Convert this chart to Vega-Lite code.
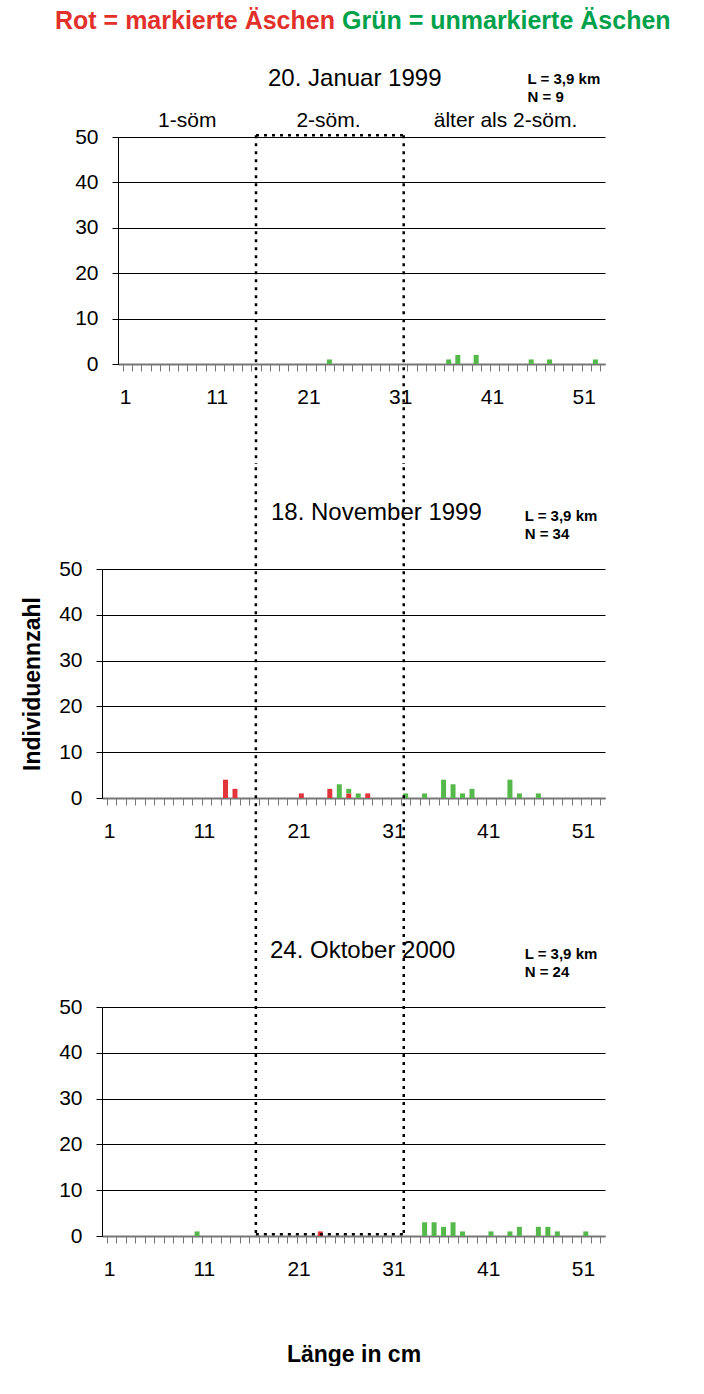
{
  "$schema": "https://vega.github.io/schema/vega-lite/v6.json",
  "padding": {"left": 21, "top": 8, "right": 0, "bottom": 0},
  "autosize": {"type": "pad"},
  "background": "white",
  "columns": 1,
  "align": "none",
  "bounds": "full",
  "spacing": 0,
  "config": {
    "view": {"stroke": null},
    "font": "Liberation Sans",
    "axis": {"labelFont": "Liberation Sans", "titleFont": "Liberation Sans", "labelColor": "#000", "titleColor": "#000"}
  },
  "datasets": {
    "bars": [
      {"termin": "20. Januar 1999", "laenge": 23, "anzahl": 1, "gruppe": "Grün = unmarkierte Äschen"},
      {"termin": "20. Januar 1999", "laenge": 36, "anzahl": 1, "gruppe": "Grün = unmarkierte Äschen"},
      {"termin": "20. Januar 1999", "laenge": 37, "anzahl": 2, "gruppe": "Grün = unmarkierte Äschen"},
      {"termin": "20. Januar 1999", "laenge": 39, "anzahl": 2, "gruppe": "Grün = unmarkierte Äschen"},
      {"termin": "20. Januar 1999", "laenge": 45, "anzahl": 1, "gruppe": "Grün = unmarkierte Äschen"},
      {"termin": "20. Januar 1999", "laenge": 47, "anzahl": 1, "gruppe": "Grün = unmarkierte Äschen"},
      {"termin": "20. Januar 1999", "laenge": 52, "anzahl": 1, "gruppe": "Grün = unmarkierte Äschen"},
      {"termin": "18. November 1999", "laenge": 13, "anzahl": 4, "gruppe": "Rot = markierte Äschen"},
      {"termin": "18. November 1999", "laenge": 14, "anzahl": 2, "gruppe": "Rot = markierte Äschen"},
      {"termin": "18. November 1999", "laenge": 21, "anzahl": 1, "gruppe": "Rot = markierte Äschen"},
      {"termin": "18. November 1999", "laenge": 24, "anzahl": 2, "gruppe": "Rot = markierte Äschen"},
      {"termin": "18. November 1999", "laenge": 26, "anzahl": 1, "gruppe": "Rot = markierte Äschen"},
      {"termin": "18. November 1999", "laenge": 28, "anzahl": 1, "gruppe": "Rot = markierte Äschen"},
      {"termin": "18. November 1999", "laenge": 25, "anzahl": 3, "gruppe": "Grün = unmarkierte Äschen"},
      {"termin": "18. November 1999", "laenge": 26, "anzahl": 1, "gruppe": "Grün = unmarkierte Äschen"},
      {"termin": "18. November 1999", "laenge": 27, "anzahl": 1, "gruppe": "Grün = unmarkierte Äschen"},
      {"termin": "18. November 1999", "laenge": 32, "anzahl": 1, "gruppe": "Grün = unmarkierte Äschen"},
      {"termin": "18. November 1999", "laenge": 34, "anzahl": 1, "gruppe": "Grün = unmarkierte Äschen"},
      {"termin": "18. November 1999", "laenge": 36, "anzahl": 4, "gruppe": "Grün = unmarkierte Äschen"},
      {"termin": "18. November 1999", "laenge": 37, "anzahl": 3, "gruppe": "Grün = unmarkierte Äschen"},
      {"termin": "18. November 1999", "laenge": 38, "anzahl": 1, "gruppe": "Grün = unmarkierte Äschen"},
      {"termin": "18. November 1999", "laenge": 39, "anzahl": 2, "gruppe": "Grün = unmarkierte Äschen"},
      {"termin": "18. November 1999", "laenge": 43, "anzahl": 4, "gruppe": "Grün = unmarkierte Äschen"},
      {"termin": "18. November 1999", "laenge": 44, "anzahl": 1, "gruppe": "Grün = unmarkierte Äschen"},
      {"termin": "18. November 1999", "laenge": 46, "anzahl": 1, "gruppe": "Grün = unmarkierte Äschen"},
      {"termin": "24. Oktober 2000", "laenge": 23, "anzahl": 1, "gruppe": "Rot = markierte Äschen"},
      {"termin": "24. Oktober 2000", "laenge": 10, "anzahl": 1, "gruppe": "Grün = unmarkierte Äschen"},
      {"termin": "24. Oktober 2000", "laenge": 34, "anzahl": 3, "gruppe": "Grün = unmarkierte Äschen"},
      {"termin": "24. Oktober 2000", "laenge": 35, "anzahl": 3, "gruppe": "Grün = unmarkierte Äschen"},
      {"termin": "24. Oktober 2000", "laenge": 36, "anzahl": 2, "gruppe": "Grün = unmarkierte Äschen"},
      {"termin": "24. Oktober 2000", "laenge": 37, "anzahl": 3, "gruppe": "Grün = unmarkierte Äschen"},
      {"termin": "24. Oktober 2000", "laenge": 38, "anzahl": 1, "gruppe": "Grün = unmarkierte Äschen"},
      {"termin": "24. Oktober 2000", "laenge": 41, "anzahl": 1, "gruppe": "Grün = unmarkierte Äschen"},
      {"termin": "24. Oktober 2000", "laenge": 43, "anzahl": 1, "gruppe": "Grün = unmarkierte Äschen"},
      {"termin": "24. Oktober 2000", "laenge": 44, "anzahl": 2, "gruppe": "Grün = unmarkierte Äschen"},
      {"termin": "24. Oktober 2000", "laenge": 46, "anzahl": 2, "gruppe": "Grün = unmarkierte Äschen"},
      {"termin": "24. Oktober 2000", "laenge": 47, "anzahl": 2, "gruppe": "Grün = unmarkierte Äschen"},
      {"termin": "24. Oktober 2000", "laenge": 48, "anzahl": 1, "gruppe": "Grün = unmarkierte Äschen"},
      {"termin": "24. Oktober 2000", "laenge": 51, "anzahl": 1, "gruppe": "Grün = unmarkierte Äschen"}
    ]
  },
  "concat": [
    {
      "width": 503,
      "height": 227,
      "title": {"text": "20. Januar 1999", "anchor": "start", "frame": "group", "dx": 166, "offset": -19, "fontSize": 24, "fontWeight": "normal", "font": "Liberation Sans", "color": "#000"},
      "resolve": {"axis": {"x": "independent", "y": "independent"}},
      "layer": [
        {
          "data": {"name": "bars"},
          "transform": [{"filter": "datum.termin == '20. Januar 1999'"}],
          "mark": {"type": "bar", "size": 5},
          "encoding": {
            "x": {"field": "laenge", "type": "quantitative", "scale": {"domain": [0.5, 52.5], "range": [16, 503], "nice": false, "zero": false},
              "axis": {"title": null, "values": [0.5,1.5,2.5,3.5,4.5,5.5,6.5,7.5,8.5,9.5,10.5,11.5,12.5,13.5,14.5,15.5,16.5,17.5,18.5,19.5,20.5,21.5,22.5,23.5,24.5,25.5,26.5,27.5,28.5,29.5,30.5,31.5,32.5,33.5,34.5,35.5,36.5,37.5,38.5,39.5,40.5,41.5,42.5,43.5,44.5,45.5,46.5,47.5,48.5,49.5,50.5,51.5,52.5],
                "labelExpr": "(datum.value - 0.5) % 10 == 0 ? format(datum.value + 0.5, 'd') : ''", "labelOffset": 2, "labelFlush": false, "labelOverlap": false, "labelFontSize": 21, "labelPadding": 15, "tickSize": 7, "tickColor": "#777", "domainColor": "#777", "domainWidth": 2, "grid": false}},
            "y": {"field": "anzahl", "type": "quantitative", "stack": "zero", "scale": {"domain": [0, 50], "nice": false},
              "axis": {"title": null, "offset": -16, "values": [0, 10, 20, 30, 40, 50], "labelFontSize": 21, "labelPadding": 14, "tickSize": 6, "tickColor": "#000", "domainColor": "#000", "grid": true, "gridColor": "#000", "gridWidth": 1}},
            "color": {"field": "gruppe", "type": "nominal", "scale": {"domain": ["Rot = markierte Äschen", "Grün = unmarkierte Äschen"], "range": ["#e2353a", "#55b84a"]},
              "legend": {"title": null, "orient": "none", "legendX": -54, "legendY": -129, "direction": "horizontal", "symbolSize": 0, "symbolOpacity": 0, "symbolStrokeWidth": 0, "labelOffset": -18, "columnPadding": -18, "labelFontSize": 25, "labelFont": "Liberation Sans", "labelFontWeight": "bold", "labelLimit": 0, "labelColor": {"expr": "datum.label == 'Rot = markierte Äschen' ? '#e2302b' : '#00a14b'"}}}
          }
        },
        {"data": {"values": [{}]}, "mark": {"type": "rule", "strokeDash": [3, 5], "strokeWidth": 2.5, "color": "#000"}, "encoding": {"x": {"datum": 15.0, "axis": null}, "y": {"datum": 50.4, "axis": null}, "y2": {"datum": -22}}},
        {"data": {"values": [{}]}, "mark": {"type": "rule", "strokeDash": [3, 5], "strokeWidth": 2.5, "color": "#000"}, "encoding": {"x": {"datum": 31.1, "axis": null}, "y": {"datum": 50.4, "axis": null}, "y2": {"datum": -22}}},
        {"data": {"values": [{}]}, "mark": {"type": "rule", "strokeDash": [3, 5], "strokeWidth": 2.5, "color": "#000"}, "encoding": {"x": {"datum": 15.0, "axis": null}, "x2": {"datum": 31.1}, "y": {"datum": 50.4, "axis": null}}},
        {"data": {"values": [{}]}, "mark": {"type": "text", "text": "1-söm", "fontSize": 21, "baseline": "middle", "color": "#000"}, "encoding": {"x": {"datum": 7.5, "axis": null}, "y": {"datum": 53.5, "axis": null}}},
        {"data": {"values": [{}]}, "mark": {"type": "text", "text": "2-söm.", "fontSize": 21, "baseline": "middle", "color": "#000"}, "encoding": {"x": {"datum": 22.9, "axis": null}, "y": {"datum": 53.5, "axis": null}}},
        {"data": {"values": [{}]}, "mark": {"type": "text", "text": "älter als 2-söm.", "fontSize": 21, "baseline": "middle", "color": "#000"}, "encoding": {"x": {"datum": 42.2, "axis": null}, "y": {"datum": 53.5, "axis": null}}},
        {"data": {"values": [{}]}, "mark": {"type": "text", "text": ["L = 3,9 km", "N = 9"], "fontSize": 15, "fontWeight": "bold", "lineHeight": 18, "align": "left", "baseline": "top", "color": "#000"}, "encoding": {"x": {"datum": 44.6, "axis": null}, "y": {"datum": 64.3, "axis": null}}}
      ]
    },
    {
      "width": 503,
      "height": 229,
      "title": {"text": "18. November 1999", "anchor": "start", "frame": "group", "dx": 169, "offset": -59, "fontSize": 24, "fontWeight": "normal", "font": "Liberation Sans", "color": "#000"},
      "resolve": {"axis": {"x": "independent", "y": "independent"}},
      "layer": [
        {
          "data": {"name": "bars"},
          "transform": [{"filter": "datum.termin == '18. November 1999'"}],
          "mark": {"type": "bar", "size": 5},
          "encoding": {
            "x": {"field": "laenge", "type": "quantitative", "scale": {"domain": [0.5, 52.5], "nice": false, "zero": false},
              "axis": {"title": null, "values": [0.5,1.5,2.5,3.5,4.5,5.5,6.5,7.5,8.5,9.5,10.5,11.5,12.5,13.5,14.5,15.5,16.5,17.5,18.5,19.5,20.5,21.5,22.5,23.5,24.5,25.5,26.5,27.5,28.5,29.5,30.5,31.5,32.5,33.5,34.5,35.5,36.5,37.5,38.5,39.5,40.5,41.5,42.5,43.5,44.5,45.5,46.5,47.5,48.5,49.5,50.5,51.5,52.5],
                "labelExpr": "(datum.value - 0.5) % 10 == 0 ? format(datum.value + 0.5, 'd') : ''", "labelOffset": 2, "labelFlush": false, "labelOverlap": false, "labelFontSize": 21, "labelPadding": 15, "tickSize": 7, "tickColor": "#777", "domainColor": "#777", "domainWidth": 2, "grid": false}},
            "y": {"field": "anzahl", "type": "quantitative", "stack": "zero", "scale": {"domain": [0, 50], "nice": false},
              "axis": {"title": "Individuennzahl", "titleFontSize": 23, "titleFontWeight": "bold", "titlePadding": 14, "values": [0, 10, 20, 30, 40, 50], "labelFontSize": 21, "labelPadding": 14, "tickSize": 6, "tickColor": "#000", "domainColor": "#000", "grid": true, "gridColor": "#000", "gridWidth": 1}},
            "color": {"field": "gruppe", "type": "nominal", "scale": {"domain": ["Rot = markierte Äschen", "Grün = unmarkierte Äschen"], "range": ["#e2353a", "#55b84a"]},
              "legend": {"title": null, "orient": "none", "legendX": -54, "legendY": -129, "direction": "horizontal", "symbolSize": 0, "symbolOpacity": 0, "symbolStrokeWidth": 0, "labelOffset": -18, "columnPadding": -18, "labelFontSize": 25, "labelFont": "Liberation Sans", "labelFontWeight": "bold", "labelLimit": 0, "labelColor": {"expr": "datum.label == 'Rot = markierte Äschen' ? '#e2302b' : '#00a14b'"}}}
          }
        },
        {"data": {"values": [{}]}, "mark": {"type": "rule", "strokeDash": [3, 5], "strokeWidth": 2.5, "color": "#000"}, "encoding": {"x": {"datum": 16.2, "axis": null}, "y": {"datum": 72.2, "axis": null}, "y2": {"datum": -21.8}}},
        {"data": {"values": [{}]}, "mark": {"type": "rule", "strokeDash": [3, 5], "strokeWidth": 2.5, "color": "#000"}, "encoding": {"x": {"datum": 31.8, "axis": null}, "y": {"datum": 72.2, "axis": null}, "y2": {"datum": -21.8}}},
        {"data": {"values": [{}]}, "mark": {"type": "text", "text": ["L = 3,9 km", "N = 34"], "fontSize": 15, "fontWeight": "bold", "lineHeight": 18, "align": "left", "baseline": "top", "color": "#000"}, "encoding": {"x": {"datum": 44.55, "axis": null}, "y": {"datum": 63.2, "axis": null}}}
      ]
    },
    {
      "width": 503,
      "height": 229,
      "title": {"text": "24. Oktober 2000", "anchor": "start", "frame": "group", "dx": 168, "offset": -62, "fontSize": 24, "fontWeight": "normal", "font": "Liberation Sans", "color": "#000"},
      "resolve": {"axis": {"x": "independent", "y": "independent"}},
      "layer": [
        {
          "data": {"name": "bars"},
          "transform": [{"filter": "datum.termin == '24. Oktober 2000'"}],
          "mark": {"type": "bar", "size": 5},
          "encoding": {
            "x": {"field": "laenge", "type": "quantitative", "scale": {"domain": [0.5, 52.5], "nice": false, "zero": false},
              "axis": {"title": "Länge in cm", "titleFontSize": 23, "titleFontWeight": "bold", "titlePadding": 64, "values": [0.5,1.5,2.5,3.5,4.5,5.5,6.5,7.5,8.5,9.5,10.5,11.5,12.5,13.5,14.5,15.5,16.5,17.5,18.5,19.5,20.5,21.5,22.5,23.5,24.5,25.5,26.5,27.5,28.5,29.5,30.5,31.5,32.5,33.5,34.5,35.5,36.5,37.5,38.5,39.5,40.5,41.5,42.5,43.5,44.5,45.5,46.5,47.5,48.5,49.5,50.5,51.5,52.5],
                "labelExpr": "(datum.value - 0.5) % 10 == 0 ? format(datum.value + 0.5, 'd') : ''", "labelOffset": 2, "labelFlush": false, "labelOverlap": false, "labelFontSize": 21, "labelPadding": 15, "tickSize": 7, "tickColor": "#777", "domainColor": "#777", "domainWidth": 2, "grid": false}},
            "y": {"field": "anzahl", "type": "quantitative", "stack": "zero", "scale": {"domain": [0, 50], "nice": false},
              "axis": {"title": null, "values": [0, 10, 20, 30, 40, 50], "labelFontSize": 21, "labelPadding": 14, "tickSize": 6, "tickColor": "#000", "domainColor": "#000", "grid": true, "gridColor": "#000", "gridWidth": 1}},
            "color": {"field": "gruppe", "type": "nominal", "scale": {"domain": ["Rot = markierte Äschen", "Grün = unmarkierte Äschen"], "range": ["#e2353a", "#55b84a"]},
              "legend": {"title": null, "orient": "none", "legendX": -54, "legendY": -129, "direction": "horizontal", "symbolSize": 0, "symbolOpacity": 0, "symbolStrokeWidth": 0, "labelOffset": -18, "columnPadding": -18, "labelFontSize": 25, "labelFont": "Liberation Sans", "labelFontWeight": "bold", "labelLimit": 0, "labelColor": {"expr": "datum.label == 'Rot = markierte Äschen' ? '#e2302b' : '#00a14b'"}}}
          }
        },
        {"data": {"values": [{}]}, "mark": {"type": "rule", "strokeDash": [3, 5], "strokeWidth": 2.5, "color": "#000"}, "encoding": {"x": {"datum": 16.2, "axis": null}, "y": {"datum": 72.9, "axis": null}, "y2": {"datum": 0.4}}},
        {"data": {"values": [{}]}, "mark": {"type": "rule", "strokeDash": [3, 5], "strokeWidth": 2.5, "color": "#000"}, "encoding": {"x": {"datum": 31.8, "axis": null}, "y": {"datum": 72.9, "axis": null}, "y2": {"datum": 0.4}}},
        {"data": {"values": [{}]}, "mark": {"type": "rule", "strokeDash": [3, 5], "strokeWidth": 2.5, "color": "#000"}, "encoding": {"x": {"datum": 16.2, "axis": null}, "x2": {"datum": 31.8}, "y": {"datum": 0.4, "axis": null}}},
        {"data": {"values": [{}]}, "mark": {"type": "text", "text": ["L = 3,9 km", "N = 24"], "fontSize": 15, "fontWeight": "bold", "lineHeight": 18, "align": "left", "baseline": "top", "color": "#000"}, "encoding": {"x": {"datum": 44.55, "axis": null}, "y": {"datum": 63.2, "axis": null}}}
      ]
    }
  ]
}
